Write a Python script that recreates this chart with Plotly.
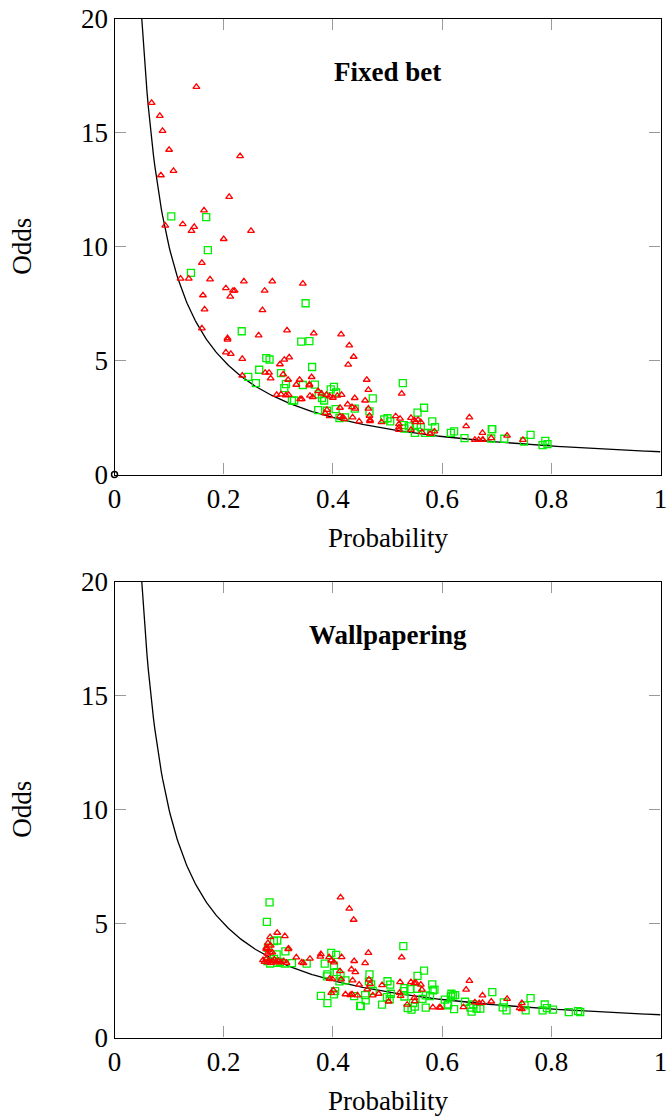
import numpy as np
import plotly.graph_objects as go

# ---------------- data ----------------
# Panel 1: Fixed bet
fb_tri_p = [0.150, 0.068, 0.083, 0.088, 0.100, 0.230, 0.108, 0.085, 0.210, 0.164,
            0.093, 0.125, 0.146, 0.141, 0.250, 0.200, 0.160, 0.121, 0.136, 0.175,
            0.237, 0.289, 0.345, 0.204, 0.217, 0.220, 0.275, 0.162, 0.212, 0.165,
            0.271, 0.160, 0.264, 0.316, 0.207, 0.207, 0.204, 0.213, 0.234, 0.311,
            0.320, 0.303, 0.276, 0.283, 0.309, 0.234, 0.286, 0.318, 0.339, 0.333,
            0.357, 0.297, 0.305, 0.314, 0.319, 0.343, 0.365, 0.415, 0.430, 0.438,
            0.428, 0.361, 0.462, 0.357, 0.465, 0.526, 0.340, 0.358, 0.363, 0.373,
            0.379, 0.388, 0.394, 0.400, 0.408, 0.416, 0.440, 0.459, 0.427, 0.435,
            0.441, 0.413, 0.465, 0.389, 0.386, 0.394, 0.413, 0.418, 0.421, 0.436,
            0.448, 0.467, 0.468, 0.468, 0.489, 0.515, 0.523, 0.521, 0.521, 0.521,
            0.543, 0.549, 0.551, 0.556, 0.561, 0.543, 0.563, 0.578, 0.586, 0.650,
            0.644, 0.674, 0.660, 0.667, 0.674, 0.675, 0.690, 0.719, 0.748]
fb_tri_o = [17.02, 16.32, 15.75, 15.09, 14.26, 13.98, 13.33, 13.14, 12.19, 11.60,
            10.93, 10.99, 10.87, 10.70, 10.70, 10.34, 9.29, 8.60, 8.60, 8.57,
            8.48, 8.48, 8.38, 8.18, 8.07, 8.07, 8.07, 7.87, 7.81, 7.25,
            7.22, 6.42, 6.11, 6.33, 5.99, 5.92, 5.36, 5.30, 5.08, 5.04,
            5.14, 4.84, 4.47, 4.47, 4.40, 4.34, 4.22, 4.16, 4.16, 3.94,
            3.96, 3.50, 3.52, 3.48, 3.50, 3.31, 6.20, 6.15, 5.67, 5.17,
            4.82, 4.28, 4.16, 3.91, 3.72, 3.55, 3.31, 3.46, 3.40, 3.66,
            3.55, 3.50, 3.43, 3.37, 3.46, 3.50, 3.36, 3.25, 3.08, 2.96,
            2.89, 2.93, 2.89, 2.84, 2.69, 2.56, 2.56, 2.52, 2.43, 2.51,
            2.33, 2.58, 2.40, 2.34, 2.30, 2.56, 2.45, 2.21, 2.07, 1.96,
            2.49, 2.39, 2.30, 2.40, 2.30, 1.96, 1.86, 1.79, 1.89, 2.51,
            2.12, 1.83, 1.52, 1.52, 1.52, 1.52, 1.60, 1.71, 1.52]
fb_sq_p = [0.104, 0.168, 0.171, 0.140, 0.350, 0.233, 0.342, 0.357, 0.278, 0.284,
           0.265, 0.305, 0.245, 0.314, 0.259, 0.345, 0.311, 0.325, 0.329, 0.362,
           0.528, 0.367, 0.402, 0.396, 0.406, 0.374, 0.380, 0.384, 0.473, 0.405,
           0.440, 0.467, 0.373, 0.389, 0.412, 0.422, 0.494, 0.500, 0.505, 0.530,
           0.539, 0.531, 0.555, 0.567, 0.550, 0.554, 0.561, 0.569, 0.582, 0.587,
           0.580, 0.616, 0.622, 0.641, 0.691, 0.692, 0.690, 0.714, 0.750, 0.762,
           0.789, 0.784, 0.793]
fb_sq_o = [11.33, 11.30, 9.85, 8.85, 7.52, 6.29, 5.83, 5.86, 5.11, 5.05,
           4.60, 4.45, 4.29, 3.97, 4.01, 3.93, 3.79, 3.25, 3.25, 4.72,
           4.01, 3.95, 3.85, 3.74, 3.60, 3.52, 3.36, 3.25, 3.34, 2.87,
           2.89, 2.77, 2.83, 2.80, 2.48, 2.51, 2.42, 2.47, 2.33, 2.17,
           2.11, 2.02, 2.72, 2.93, 1.83, 2.18, 2.08, 1.83, 2.33, 2.08,
           1.83, 1.83, 1.89, 1.60, 1.99, 1.99, 1.58, 1.57, 1.45, 1.74,
           1.48, 1.29, 1.33]

# Panel 2: Wallpapering
wp_tri_p = [0.414, 0.430, 0.438, 0.298, 0.312, 0.285, 0.281, 0.286, 0.278, 0.278,
            0.318, 0.319, 0.285, 0.280, 0.289, 0.272, 0.275, 0.278, 0.280, 0.283,
            0.287, 0.290, 0.293, 0.296, 0.300, 0.305, 0.310, 0.315, 0.333, 0.343,
            0.358, 0.346, 0.377, 0.378, 0.393, 0.397, 0.402, 0.416, 0.439, 0.459,
            0.465, 0.526, 0.434, 0.441, 0.413, 0.394, 0.399, 0.415, 0.436, 0.448,
            0.466, 0.463, 0.490, 0.523, 0.543, 0.549, 0.552, 0.561, 0.563, 0.522,
            0.524, 0.502, 0.549, 0.550, 0.536, 0.583, 0.595, 0.397, 0.401, 0.423,
            0.432, 0.435, 0.445, 0.473, 0.484, 0.468, 0.650, 0.644, 0.674, 0.719,
            0.597, 0.639, 0.660, 0.668, 0.674, 0.690, 0.746, 0.742, 0.746]
wp_tri_o = [6.15, 5.66, 5.17, 4.60, 4.45, 4.41, 4.15, 4.04, 3.94, 3.88,
            3.88, 3.90, 3.74, 3.68, 3.74, 3.40, 3.32, 3.45, 3.30, 3.38,
            3.28, 3.35, 3.42, 3.30, 3.36, 3.30, 3.35, 3.28, 3.52, 3.30,
            3.46, 3.27, 3.55, 3.66, 3.53, 3.38, 3.30, 3.53, 3.36, 3.27,
            3.72, 3.52, 2.99, 2.87, 2.91, 2.58, 2.56, 2.55, 2.51, 2.32,
            2.54, 2.11, 2.30, 2.43, 2.43, 2.39, 2.40, 2.32, 2.10, 1.96,
            1.83, 1.58, 1.74, 1.60, 1.44, 1.32, 1.32, 1.96, 2.07, 1.90,
            1.86, 1.90, 1.85, 1.85, 1.92, 2.34, 2.49, 2.10, 1.85, 1.70,
            1.31, 1.33, 1.54, 1.51, 1.52, 1.58, 1.51, 1.29, 1.25]
wp_sq_p = [0.284, 0.279, 0.298, 0.292, 0.281, 0.297, 0.313, 0.280, 0.285, 0.292,
           0.298, 0.303, 0.312, 0.325, 0.352, 0.397, 0.406, 0.385, 0.402, 0.390,
           0.407, 0.414, 0.529, 0.567, 0.555, 0.582, 0.467, 0.389, 0.423, 0.412,
           0.470, 0.466, 0.473, 0.500, 0.505, 0.531, 0.530, 0.542, 0.554, 0.583,
           0.586, 0.506, 0.499, 0.504, 0.490, 0.531, 0.547, 0.544, 0.537, 0.550,
           0.564, 0.570, 0.570, 0.578, 0.605, 0.611, 0.378, 0.390, 0.402, 0.404,
           0.439, 0.450, 0.451, 0.460, 0.459, 0.692, 0.762, 0.617, 0.620, 0.624,
           0.616, 0.610, 0.622, 0.642, 0.657, 0.652, 0.654, 0.663, 0.670, 0.713,
           0.711, 0.718, 0.751, 0.753, 0.788, 0.784, 0.792, 0.803, 0.832, 0.849,
           0.853]
wp_sq_o = [5.93, 5.08, 4.26, 4.23, 3.94, 3.65, 3.78, 3.35, 3.25, 3.45,
           3.28, 3.32, 3.25, 3.27, 3.24, 3.72, 3.63, 3.24, 3.15, 2.77,
           2.87, 2.72, 4.01, 2.94, 2.71, 2.33, 2.77, 2.68, 2.51, 2.46,
           2.33, 2.46, 2.05, 2.47, 2.32, 2.17, 2.04, 2.12, 2.14, 2.07,
           2.10, 1.92, 1.77, 1.68, 1.44, 1.80, 1.51, 1.22, 1.29, 1.36,
           1.70, 1.31, 1.85, 1.82, 1.66, 1.45, 1.83, 1.51, 1.89, 2.04,
           1.82, 1.39, 1.38, 1.63, 1.86, 1.99, 1.73, 1.92, 1.85, 1.86,
           1.80, 1.41, 1.25, 1.57, 1.45, 1.31, 1.14, 1.27, 1.27, 1.54,
           1.32, 1.19, 1.41, 1.19, 1.45, 1.19, 1.29, 1.22, 1.11, 1.16,
           1.11]

x_ticks = [0, 0.2, 0.4, 0.6, 0.8, 1]
x_tick_text = ["0", "0.2", "0.4", "0.6", "0.8", "1"]
y_ticks = [0, 5, 10, 15, 20]
y_tick_text = ["0", "5", "10", "15", "20"]
titles = ["Fixed bet", "Wallpapering"]

# fair-odds curve odds = 1 / probability
curve_p = np.linspace(0.05, 1.0, 400)
curve_o = 1.0 / curve_p

# ---------------- figure ----------------
W, H = 669, 1117
FONT = '"Liberation Serif", "Times New Roman", Times, serif'
RED = "#ff0000"
GREEN = "#00ee00"

fig = go.Figure()

panels = [
    ("x", "y", fb_tri_p, fb_tri_o, fb_sq_p, fb_sq_o),
    ("x2", "y2", wp_tri_p, wp_tri_o, wp_sq_p, wp_sq_o),
]
for xa, ya, tp, to, sp, so in panels:
    fig.add_trace(go.Scatter(x=curve_p, y=curve_o, mode="lines",
                             line=dict(color="black", width=1.3),
                             xaxis=xa, yaxis=ya, showlegend=False, hoverinfo="skip"))
    fig.add_trace(go.Scatter(x=sp, y=so, mode="markers",
                             marker=dict(symbol="square-open", size=7,
                                         color=GREEN, line=dict(width=1.3, color=GREEN)),
                             xaxis=xa, yaxis=ya, showlegend=False))
    fig.add_trace(go.Scatter(x=tp, y=to, mode="markers",
                             marker=dict(symbol="triangle-up-open", size=6,
                                         color=RED, line=dict(width=1.3, color=RED)),
                             xaxis=xa, yaxis=ya, showlegend=False))

# small open circle at the origin of the upper plot
fig.add_trace(go.Scatter(x=[0], y=[0], mode="markers",
                         marker=dict(symbol="circle-open", size=6, color="black",
                                     line=dict(width=1.5, color="black")),
                         cliponaxis=False, xaxis="x", yaxis="y",
                         showlegend=False, hoverinfo="skip"))

xl, xr = 114.5 / W, 660.5 / W
dom_top = [1 - 474.5 / H, 1 - 19 / H]
dom_bot = [1 - 1037.5 / H, 1 - 582 / H]

ax_common = dict(range=[0, 1], showgrid=False, zeroline=False, automargin=False,
                 showline=True, linecolor="black", linewidth=1.2, mirror="allticks",
                 ticks="inside", ticklen=11, tickcolor="#9a9a9a", tickwidth=1.2,
                 tickvals=x_ticks, ticktext=x_tick_text,
                 tickfont=dict(family=FONT, size=27, color="black"))
ay_common = dict(range=[0, 20], showgrid=False, zeroline=False, automargin=False,
                 showline=True, linecolor="black", linewidth=1.2, mirror="allticks",
                 ticks="inside", ticklen=11, tickcolor="#9a9a9a", tickwidth=1.2,
                 tickvals=y_ticks, ticktext=y_tick_text,
                 tickfont=dict(family=FONT, size=27, color="black"))

fig.update_layout(
    width=W, height=H, margin=dict(l=0, r=0, t=0, b=0, autoexpand=False),
    plot_bgcolor="white", paper_bgcolor="white",
    xaxis=dict(ax_common, domain=[xl, xr], anchor="y"),
    yaxis=dict(ay_common, domain=dom_top, anchor="x"),
    xaxis2=dict(ax_common, domain=[xl, xr], anchor="y2"),
    yaxis2=dict(ay_common, domain=dom_bot, anchor="x2"),
)

ann = []
for i, (dom, t) in enumerate([(dom_top, titles[0]), (dom_bot, titles[1])]):
    top_px = (1 - dom[1]) * H
    bot_px = (1 - dom[0]) * H
    xref = "x" if i == 0 else "x2"
    # panel title
    ann.append(dict(x=0.5, y=1 - (top_px + 53) / H, xref=xref, yref="paper",
                    text="<b>" + t + "</b>", showarrow=False,
                    font=dict(family=FONT, size=27, color="black"),
                    xanchor="center", yanchor="middle"))
    # x title
    ann.append(dict(x=0.5, y=1 - (bot_px + 63) / H, xref=xref, yref="paper",
                    text="Probability", showarrow=False,
                    font=dict(family=FONT, size=27, color="black"),
                    xanchor="center", yanchor="middle"))
    # y title
    ann.append(dict(x=22 / W, y=1 - ((top_px + bot_px) / 2) / H, xref="paper", yref="paper",
                    text="Odds", showarrow=False, textangle=-90,
                    font=dict(family=FONT, size=27, color="black"),
                    xanchor="center", yanchor="middle"))
fig.update_layout(annotations=ann)

fig.write_html("out.html")
